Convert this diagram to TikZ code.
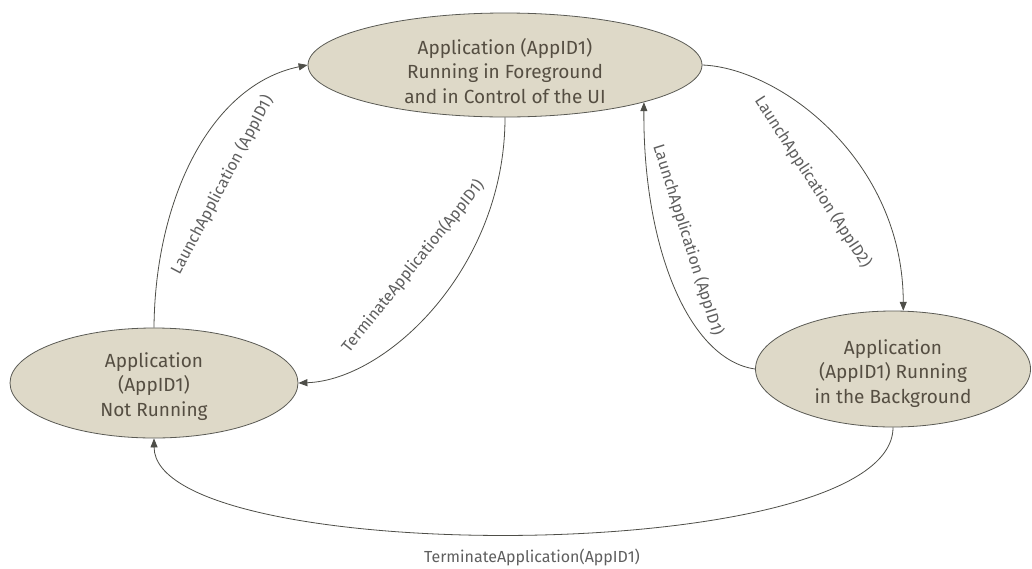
\documentclass[tikz,border=0pt]{standalone}
\usepackage{fontspec}
\setmainfont{Fira Sans}
\usetikzlibrary{shapes.geometric,arrows.meta}
\definecolor{fillc}{RGB}{222,217,200}
\definecolor{bordc}{RGB}{90,90,84}
\definecolor{textc}{RGB}{85,78,66}
\definecolor{linec}{RGB}{78,78,72}
\definecolor{lblc}{RGB}{95,95,95}
\begin{document}
\begin{tikzpicture}[x=1pt,y=-1pt,
  state/.style={ellipse, draw=bordc, fill=fillc, line width=0.8pt, inner sep=-14pt,
    align=center, text=textc, font=\fontsize{19}{24.5}\selectfont},
  conn/.style={draw=linec, line width=0.8pt, -{Triangle[length=9pt,width=7pt]}},
  lbl/.style={text=lblc, font=\fontsize{16}{18}\selectfont, inner sep=0pt}]
\useasboundingbox (0,0) rectangle (1032,568);
\fill[white] (0,0) rectangle (1032,568);

\node[state, minimum width=394pt, minimum height=104pt] (T) at (505,65)
  {\rule{0pt}{28pt}Application (AppID1)\\Running in Foreground\\and in Control of the UI};
\node[state, minimum width=288pt, minimum height=110pt] (L) at (154,383)
  {\rule{0pt}{22pt}Application\\(AppID1)\\Not Running};
\node[state, minimum width=275pt, minimum height=116pt] (R) at (893,369)
  {\rule{0pt}{24pt}Application\\(AppID1) Running\\in the Background};

\draw[conn] (L.north) .. controls (155,200) and (210,85) .. (T.west);
\draw[conn] (T.south) .. controls (505,268) and (387,380) .. (L.east);
\draw[conn] (T.east) .. controls (780,68) and (903,160) .. (R.80);
\draw[conn] (R.west) .. controls (690,360) and (643,250) .. (T.-15);
\draw[conn] (R.south) .. controls (893,568) and (155,568) .. (L.south);

\node[lbl, rotate=62] (l1) at (222,185) {LaunchApplication (AppID1)};
\node[lbl, rotate=51] (l2) at (413,266) {TerminateApplication(AppID1)};
\node[lbl, rotate=-57] (l3) at (813,182) {LaunchApplication (AppID2)};
\node[lbl, rotate=-72.5] (l4) at (688,240) {LaunchApplication (AppID1)};
\node[lbl] (l5) at (532,557) {TerminateApplication(AppID1)};
\end{tikzpicture}
\end{document}
